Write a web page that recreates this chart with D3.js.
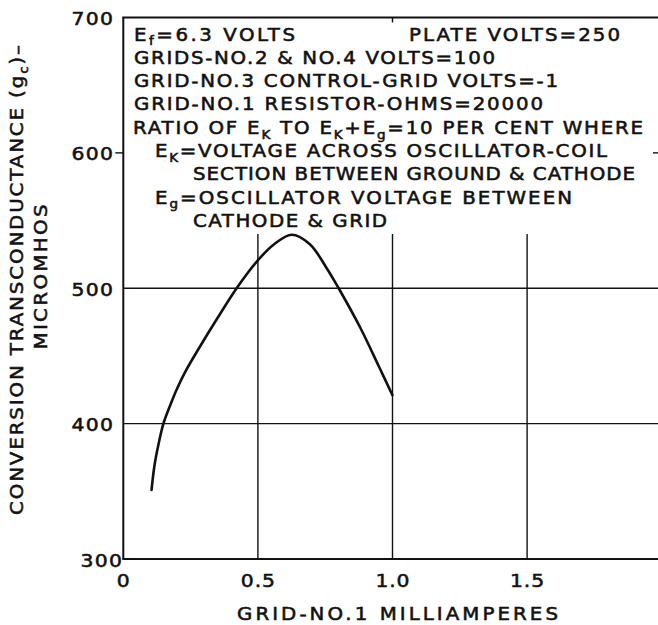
<!DOCTYPE html>
<html>
<head>
<meta charset="utf-8">
<script src="https://cdn.jsdelivr.net/npm/d3@7"></script>
<style>
  body { margin: 0; background: #fff; }
  svg { display: block; }
  text { font-family: "DejaVu Sans", sans-serif; fill: #111; stroke: #111; stroke-width: 0.55; }
</style>
</head>
<body>
<svg id="chart" width="658" height="625"></svg>
<script>
// Conversion transconductance vs. grid-No.1 current
const gridCurrent = [0.105, 0.115, 0.13, 0.149, 0.175, 0.2, 0.235, 0.285, 0.35, 0.421, 0.495, 0.557, 0.626, 0.693, 0.755, 0.8, 0.88, 0.95, 1.0];
const transconductance = [351, 368, 384, 400, 414, 426, 440, 457, 478, 500, 519.5, 532, 539.5, 532.5, 515, 500, 471, 442, 421];

const xTicks = [0, 0.5, 1.0, 1.5];
const xTickLabels = ["0", "0.5", "1.0", "1.5"];
const yTicks = [300, 400, 500, 600, 700];
const yTickLabels = ["300", "400", "500", "600", "700"];
const xGrid = [0.5, 1.0, 1.5];
const yGrid = [400, 500];

const xTitle = [{ t: "GRID-NO.1 MILLIAMPERES" }];
const yTitleLines = [
  [{ t: "CONVERSION TRANSCONDUCTANCE (g" }, { t: "c", sub: true }, { t: ")–" }],
  [{ t: "MICROMHOS" }]
];

// Operating conditions printed inside the plot
const noteLines = [
  [{ t: "E" }, { t: "f", sub: true }, { t: "=6.3 VOLTS" }],
  [{ t: "PLATE VOLTS=250" }],
  [{ t: "GRIDS-NO.2 & NO.4 VOLTS=100" }],
  [{ t: "GRID-NO.3 CONTROL-GRID VOLTS=-1" }],
  [{ t: "GRID-NO.1 RESISTOR-OHMS=20000" }],
  [{ t: "RATIO OF E" }, { t: "K", sub: true }, { t: " TO E" }, { t: "K", sub: true }, { t: "+E" }, { t: "g", sub: true }, { t: "=10 PER CENT WHERE" }],
  [{ t: "E" }, { t: "K", sub: true }, { t: "=VOLTAGE ACROSS OSCILLATOR-COIL" }],
  [{ t: "SECTION BETWEEN GROUND & CATHODE" }],
  [{ t: "E" }, { t: "g", sub: true }, { t: "=OSCILLATOR VOLTAGE BETWEEN" }],
  [{ t: "CATHODE & GRID" }]
];
// [left x, baseline y, width] for each note line
const noteLayout = [
  [134, 40.5, 161], [409, 40.5, 211], [134, 63.8, 361], [134, 87.1, 424], [134, 110.4, 409],
  [133, 133.7, 510], [155, 157, 452], [193, 180.3, 442], [155, 203.6, 417], [193, 226.9, 194]
];

const svg = d3.select("#chart");
const W = 658;
const FS = 18;      // lettering size
const WIDEN = 1.1;  // horizontal stretch of the lettering

const x = d3.scaleLinear().domain([0, 2]).range([123.3, 661.7]);
const y = d3.scaleLinear().domain([300, 700]).range([559, 17.5]);

// write a line of text with lowered subscripts
function richText(g, parts, fs) {
  const t = g.append("text").attr("font-size", fs);
  parts.forEach((p, i) => {
    const prevSub = i > 0 && parts[i - 1].sub;
    const s = t.append("tspan").text(p.t);
    if (p.sub) s.attr("font-size", fs * 0.68).attr("dy", fs * 0.27);
    else if (prevSub) s.attr("dy", -fs * 0.27);
  });
  return t;
}
// spread the letters so the line covers the given width
function fitWidth(t, width) {
  const n = t.text().length;
  const w = t.node().getComputedTextLength();
  t.attr("letter-spacing", Math.max(0, (width - w) / (n - 1)));
}
// a stretched line of lettering placed at (lx, by), optionally rotated
function lettering(parts, lx, by, width, rot) {
  const g = svg.append("g")
    .attr("transform", `translate(${lx},${by})${rot ? " rotate(" + rot + ")" : ""} scale(${WIDEN},1)`);
  const t = richText(g, parts, FS);
  fitWidth(t, width / WIDEN);
  return t;
}

// frame: left axis, top and bottom edges
svg.append("line").attr("x1", x(0)).attr("x2", x(0)).attr("y1", y(700)).attr("y2", y(300))
  .attr("stroke", "#111").attr("stroke-width", 2);
svg.append("line").attr("x1", x(0) - 1).attr("x2", W).attr("y1", y(700)).attr("y2", y(700))
  .attr("stroke", "#111").attr("stroke-width", 2);
svg.append("line").attr("x1", x(0) - 1).attr("x2", W).attr("y1", y(300)).attr("y2", y(300))
  .attr("stroke", "#111").attr("stroke-width", 2);

// grid lines
svg.selectAll(".hg").data(yGrid).join("line")
  .attr("x1", x(0)).attr("x2", W).attr("y1", d => y(d)).attr("y2", d => y(d))
  .attr("stroke", "#111").attr("stroke-width", 1.4);
svg.selectAll(".vg").data(xGrid).join("line")
  .attr("x1", d => x(d)).attr("x2", d => x(d)).attr("y1", y(540)).attr("y2", y(300))
  .attr("stroke", "#111").attr("stroke-width", 1.4);

// short tick marks at 600 and at the top of the 1.0 line
svg.append("line").attr("x1", x(0) - 8).attr("x2", x(0)).attr("y1", y(600)).attr("y2", y(600))
  .attr("stroke", "#111").attr("stroke-width", 1.4);
svg.append("line").attr("x1", W - 5).attr("x2", W).attr("y1", y(600)).attr("y2", y(600))
  .attr("stroke", "#111").attr("stroke-width", 1.4);
svg.append("line").attr("x1", x(1.0)).attr("x2", x(1.0)).attr("y1", y(700)).attr("y2", y(700) + 5)
  .attr("stroke", "#111").attr("stroke-width", 1.4);

// y tick labels
svg.selectAll(".yl").data(yTicks).join("text")
  .attr("transform", (d, i) => `translate(${i === 0 ? 122 : 113},${y(d) + (i === 0 ? 8 : 7.5)}) scale(${WIDEN},1)`)
  .attr("text-anchor", "end").attr("font-size", 18.5).attr("letter-spacing", 1.2)
  .attr("dx", 1.2)
  .text((d, i) => yTickLabels[i]);

// x tick labels
svg.selectAll(".xl").data(xTicks).join("text")
  .attr("transform", d => `translate(${x(d)},587) scale(${WIDEN},1)`)
  .attr("text-anchor", "middle").attr("font-size", 18.5).attr("letter-spacing", 0.8)
  .attr("dx", 0.4)
  .text((d, i) => xTickLabels[i]);

// axis titles
lettering(xTitle, 237, 620, 321);

const yTitlePos = [[23, 280, 470], [47, 277, 145]];
yTitleLines.forEach((parts, i) => {
  const [bx, cy, len] = yTitlePos[i];
  lettering(parts, bx, cy + len / 2, len, -90);
});

// curve
const line = d3.line()
  .x((d, i) => x(gridCurrent[i]))
  .y(d => y(d))
  .curve(d3.curveCatmullRom.alpha(0.5));
svg.append("path").datum(transconductance)
  .attr("d", line).attr("fill", "none")
  .attr("stroke", "#111").attr("stroke-width", 2.6).attr("stroke-linecap", "round");

// notes
noteLines.forEach((parts, i) => {
  const [lx, by, w] = noteLayout[i];
  lettering(parts, lx, by, w);
});
</script>
</body>
</html>
